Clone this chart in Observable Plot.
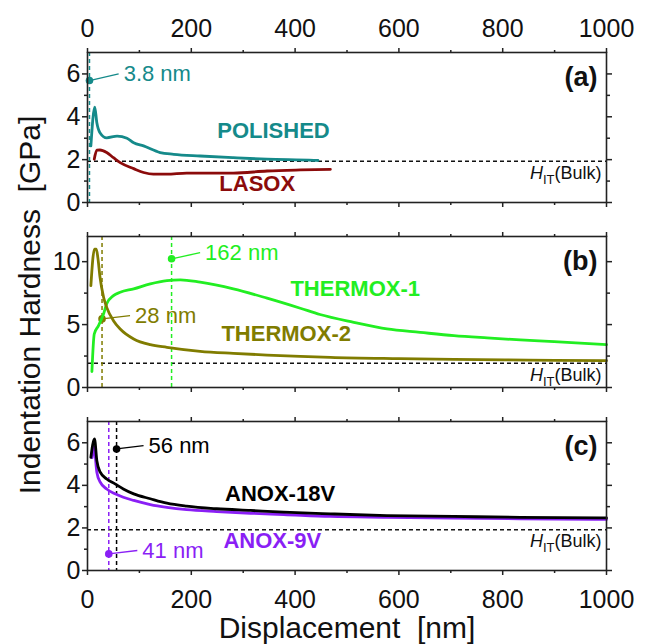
<!DOCTYPE html>
<html>
<head>
<meta charset="utf-8">
<script src="https://cdn.jsdelivr.net/npm/d3@7"></script>
<script src="https://cdn.jsdelivr.net/npm/@observablehq/plot@0.6"></script>
<style>
  body { margin: 0; background: #fff; }
  #chart { position: relative; width: 647px; height: 644px; background: #fff; font-family: "Liberation Sans", Arial, sans-serif; }
  #chart svg { position: absolute; left: 0; overflow: visible; background: transparent; }
</style>
</head>
<body>
<div id="chart"></div>
<script>
// ---------- data ----------
const xTicks = [0, 200, 400, 600, 800, 1000];
const xMinor = [100, 300, 500, 700, 900];
const yTicksA = [0, 2, 4, 6];
const yMinorA = [1, 3, 5];
const yTicksB = [0, 5, 10];
const yMinorB = [2.5, 7.5];
const yTicksC = [0, 2, 4, 6];
const yMinorC = [1, 3, 5];
const bulkHardness = 1.92;

const polishedX = [6.5, 14, 18, 24, 37, 57, 76, 89, 108, 140, 166, 217, 281, 346, 436, 444];
const polishedY = [2.64, 4.45, 3.72, 3.26, 3.02, 3.10, 3.00, 2.79, 2.64, 2.33, 2.25, 2.17, 2.09, 2.02, 1.97, 1.96];
const lasoxX = [13, 18, 24, 37, 50, 63, 89, 108, 127, 153, 191, 281, 346, 410, 468];
const lasoxY = [2.02, 2.44, 2.45, 2.33, 2.09, 1.86, 1.58, 1.40, 1.32, 1.32, 1.37, 1.37, 1.47, 1.52, 1.55];

const thermox1X = [8.5, 13, 21, 31, 37, 50, 63, 89, 121, 153, 179, 217, 281, 346, 410, 448, 513, 577, 641, 706, 770, 834, 899, 1000];
const thermox1Y = [1.27, 4.25, 4.9, 5.85, 6.65, 7.3, 7.57, 7.84, 8.24, 8.5, 8.56, 8.37, 7.84, 7.1, 6.3, 5.8, 5.18, 4.65, 4.38, 4.12, 3.94, 3.78, 3.64, 3.4];
const thermox2X = [6.5, 13.5, 17, 20, 24, 31, 37, 50, 63, 89, 121, 153, 217, 281, 346, 410, 468, 600, 706, 850, 1000];
const thermox2Y = [8.1, 11.0, 11.0, 10.3, 8.8, 7.17, 6.37, 5.31, 4.65, 3.86, 3.4, 3.19, 2.87, 2.71, 2.58, 2.47, 2.39, 2.29, 2.23, 2.18, 2.13];

const anox18X = [6.5, 13.5, 18, 24.5, 37, 53, 69, 89, 121, 153, 191, 249, 314, 378, 468, 577, 706, 834, 1000];
const anox18Y = [5.32, 6.18, 5.16, 4.62, 4.3, 4.07, 3.83, 3.6, 3.37, 3.16, 3.02, 2.9, 2.82, 2.74, 2.66, 2.58, 2.54, 2.5, 2.47];
const anox9X = [9, 12.5, 18, 24.5, 37, 53, 69, 89, 121, 153, 191, 249, 314, 378, 468, 577, 706, 834, 1000];
const anox9Y = [5.3, 5.8, 4.62, 4.15, 3.83, 3.6, 3.44, 3.29, 3.1, 2.97, 2.86, 2.77, 2.69, 2.63, 2.54, 2.5, 2.46, 2.43, 2.4];

// critical depths: x, hardness at marker, leader end, label text
const critA = [{x: 3.8, y: 5.69, x2: 60, y2: 6.0, label: "3.8 nm", c: "teal"}];
const critB = [
  {x: 162, y: 10.23, x2: 217, y2: 10.71, label: "162 nm", c: "t1"},
  {x: 28, y: 5.45, x2: 82, y2: 5.71, label: "28 nm", c: "t2"}
];
const critC = [
  {x: 56, y: 5.71, x2: 108, y2: 5.87, label: "56 nm", c: "a18"},
  {x: 41, y: 0.78, x2: 96, y2: 0.94, label: "41 nm", c: "a9"}
];
const seriesLabelsA = [{x: 250, y: 3.33, t: "POLISHED", c: "teal"}, {x: 254, y: 0.86, t: "LASOX", c: "lasox"}];
const seriesLabelsB = [{x: 391, y: 7.84, t: "THERMOX-1", c: "t1"}, {x: 258, y: 4.25, t: "THERMOX-2", c: "t2"}];
const seriesLabelsC = [{x: 265, y: 3.6, t: "ANOX-18V", c: "a18"}, {x: 262, y: 1.41, t: "ANOX-9V", c: "a9"}];
const bulkLabel = "HIT(Bulk)";

// ---------- styling ----------
const colors = {teal: "#158a8a", lasox: "#8b0b0b", t1: "#22ee22", t2: "#807c00", a18: "#000000", a9: "#8a1ff5"};
const ink = "#222";
const W = 647, ML = 87, MR = 41;
const toPts = (xs, ys) => xs.map((x, i) => ({x, y: ys[i]}));
const fmt = d => String(d);

function lineMark(xs, ys, c) {
  return Plot.line(toPts(xs, ys), {x: "x", y: "y", stroke: colors[c], strokeWidth: 2.8, curve: "monotone-x"});
}

function critMarks(list) {
  return [
    Plot.ruleX(list, {x: "x", stroke: d => colors[d.c], strokeWidth: 1.5, strokeDasharray: "4,3"}),
    Plot.link(list, {x1: "x", y1: "y", x2: "x2", y2: "y2", stroke: d => colors[d.c], strokeWidth: 1.3}),
    Plot.dot(list, {x: "x", y: "y", r: 3.8, fill: d => colors[d.c], stroke: "none"}),
    Plot.text(list, {x: "x2", y: "y2", text: "label", fill: d => colors[d.c], fontSize: 22, textAnchor: "start", dx: 5, lineAnchor: "middle"})
  ];
}

function seriesText(list) {
  return Plot.text(list, {x: "x", y: "y", text: "t", fill: d => colors[d.c], fontSize: 22, fontWeight: "bold", textAnchor: "start", lineAnchor: "middle"});
}

function makePanel(cfg) {
  const {top, marginTop, plotH, marginBottom, yDomain, yMajor, yMinor, topLabels, bottomLabels, letter, marks} = cfg;
  const svg = Plot.plot({
    width: W,
    height: marginTop + plotH + marginBottom,
    marginLeft: ML, marginRight: MR, marginTop, marginBottom,
    style: {background: "transparent", overflow: "visible", fontFamily: "Liberation Sans, Arial, sans-serif", color: "#111"},
    x: {domain: [0, 1000], axis: null},
    y: {domain: yDomain, axis: null},
    marks: [
      Plot.ruleY([bulkHardness], {stroke: "#111", strokeWidth: 1.5, strokeDasharray: "4,3"}),
      Plot.text([bulkLabel], {frameAnchor: "right", y: () => bulkHardness, text: d => d, textAnchor: "end", lineAnchor: "middle", dx: -5, dy: 12, fontSize: 18, fill: "#111"}),
      ...marks,
      Plot.frame({stroke: ink, strokeWidth: 1.6}),
      Plot.axisX(xTicks, {anchor: "top", tickSize: 5, tickPadding: 11, tickFormat: fmt, stroke: ink, strokeWidth: 1.5, fill: topLabels ? "#111" : "none", fontSize: 25, label: null}),
      Plot.axisX(xMinor, {anchor: "top", tickSize: 3, stroke: ink, strokeWidth: 1.5, fill: "none", label: null}),
      Plot.axisX(xTicks, {anchor: "bottom", tickSize: 5, tickPadding: 15, tickFormat: fmt, stroke: ink, strokeWidth: 1.5, fill: bottomLabels ? "#111" : "none", fontSize: 25, label: null}),
      Plot.axisX(xMinor, {anchor: "bottom", tickSize: 3, stroke: ink, strokeWidth: 1.5, fill: "none", label: null}),
      Plot.axisY(yMajor, {anchor: "left", tickSize: 5, tickPadding: 2, tickFormat: fmt, stroke: ink, strokeWidth: 1.5, fill: "#111", fontSize: 25, label: null}),
      Plot.axisY(yMinor, {anchor: "left", tickSize: 3, stroke: ink, strokeWidth: 1.5, fill: "none", label: null}),
      Plot.axisY(yMajor, {anchor: "right", tickSize: 5, stroke: ink, strokeWidth: 1.5, fill: "none", label: null}),
      Plot.axisY(yMinor, {anchor: "right", tickSize: 3, stroke: ink, strokeWidth: 1.5, fill: "none", label: null}),
      Plot.text([letter], {frameAnchor: "top-right", text: d => d, fontSize: 27, fontWeight: "bold", textAnchor: "end", lineAnchor: "middle", dx: -9, dy: 25, fill: "#111"}),
      ...(cfg.extra || [])
    ]
  });
  svg.style.top = top + "px";
  // H_IT subscript formatting
  d3.select(svg).selectAll("text").filter(function () { return this.textContent === bulkLabel; }).each(function () {
    const t = d3.select(this);
    t.text(null);
    t.append("tspan").attr("font-style", "italic").text("H");
    t.append("tspan").attr("font-size", 13).attr("dy", 5).text("IT");
    t.append("tspan").attr("dy", -5).text("(Bulk)");
  });
  document.getElementById("chart").appendChild(svg);
}

makePanel({
  top: 0, marginTop: 52, plotH: 150, marginBottom: 12, yDomain: [0, 7],
  yMajor: yTicksA, yMinor: yMinorA, topLabels: true, bottomLabels: false, letter: "(a)",
  marks: [
    ...critMarks(critA),
    lineMark(lasoxX, lasoxY, "lasox"),
    lineMark(polishedX, polishedY, "teal"),
    seriesText(seriesLabelsA)
  ]
});

makePanel({
  top: 226, marginTop: 10, plotH: 151, marginBottom: 12, yDomain: [0, 12],
  yMajor: yTicksB, yMinor: yMinorB, topLabels: false, bottomLabels: false, letter: "(b)",
  marks: [
    ...critMarks(critB),
    lineMark(thermox1X, thermox1Y, "t1"),
    lineMark(thermox2X, thermox2Y, "t2"),
    seriesText(seriesLabelsB)
  ],
  extra: [
    Plot.text(["Indentation Hardness  [GPa]"], {frameAnchor: "left", text: d => d, rotate: -90, textAnchor: "middle", lineAnchor: "middle", dx: -57, dy: -7, fontSize: 30, fill: "#111"})
  ]
});

makePanel({
  top: 411, marginTop: 10, plotH: 149, marginBottom: 74, yDomain: [0, 7],
  yMajor: yTicksC, yMinor: yMinorC, topLabels: false, bottomLabels: true, letter: "(c)",
  marks: [
    ...critMarks(critC),
    lineMark(anox9X, anox9Y, "a9"),
    lineMark(anox18X, anox18Y, "a18"),
    seriesText(seriesLabelsC)
  ],
  extra: [
    Plot.text(["Displacement  [nm]"], {frameAnchor: "bottom", text: d => d, textAnchor: "middle", lineAnchor: "middle", dy: 58, fontSize: 30, fill: "#111"})
  ]
});
</script>
</body>
</html>
